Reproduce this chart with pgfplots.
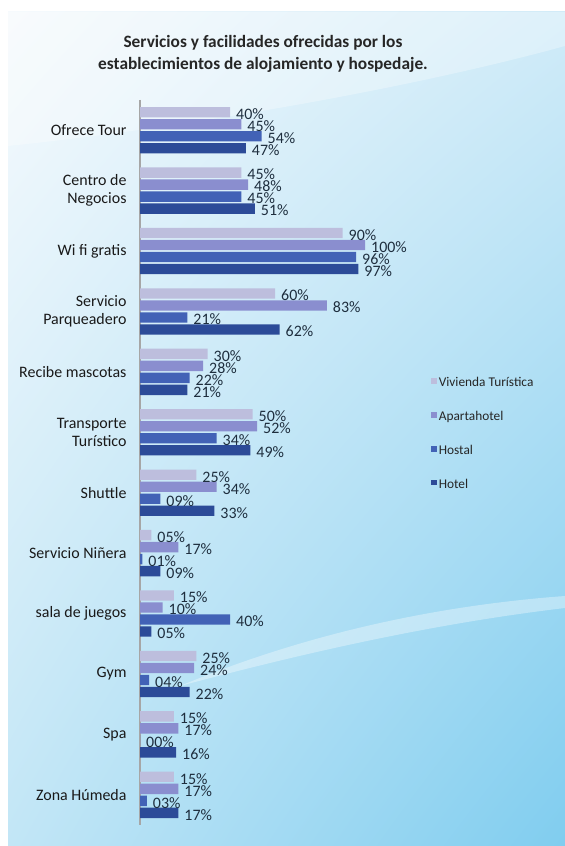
\documentclass[border=0pt]{standalone}
\usepackage{fontspec}
\setmainfont{Carlito}
\usepackage{pgfplots}
\pgfplotsset{compat=1.18}
\usetikzlibrary{shadings}
\definecolor{cViv}{HTML}{BDBEDD}
\definecolor{cApa}{HTML}{8A8ECF}
\definecolor{cHos}{HTML}{4262B6}
\definecolor{cHot}{HTML}{2C4B98}
\definecolor{lbl}{HTML}{1E2E3E}
\definecolor{bgA}{HTML}{F6FAFD}
\definecolor{bgB}{HTML}{D0EBF8}
\definecolor{bgC}{HTML}{C2E6F6}
\definecolor{bgD}{HTML}{80CDEF}
\begin{document}
\begin{tikzpicture}[x=1bp,y=1bp]
\fill[white] (0,0) rectangle (565,846);
\shade[upper left=bgA, upper right=bgB, lower left=bgC, lower right=bgD] (8,0) rectangle (565,834);
\fill[white, opacity=0.30] (8,700) .. controls (200,720) and (420,760) .. (565,800) -- (565,834) -- (8,834) -- cycle;
\fill[white, opacity=0.35] (180,160) .. controls (300,210) and (430,240) .. (565,250) -- (565,238) .. controls (430,222) and (300,192) .. (180,160) -- cycle;
\node[font=\bfseries\fontsize{17.4}{22}\selectfont, align=center, text=black!85] at (263,792) {Servicios y facilidades ofrecidas por los\\establecimientos de alojamiento y hospedaje.};
\begin{axis}[
  at={(140bp,21bp)}, anchor=south west,
  scale only axis, width=225bp, height=725bp,
  xmin=0, xmax=100, ymin=-0.5, ymax=11.5, y dir=reverse,
  xbar=1.6bp, bar width=10.4bp,
  axis x line=none, axis y line*=left,
  y axis line style={gray!70, line width=1.2pt},
  ytick={0,...,11}, major tick length=0pt,
  yticklabels={Ofrece Tour,{Centro de\\Negocios},Wi fi gratis,{Servicio\\Parqueadero},Recibe mascotas,{Transporte\\Turístico},Shuttle,Servicio Niñera,sala de juegos,Gym,Spa,Zona Húmeda},
  yticklabel style={align=right, font=\fontsize{16}{18.5}\selectfont, text=black!90, xshift=-10bp},
  clip=false,
  point meta=explicit symbolic,
  nodes near coords,
  nodes near coords style={anchor=west, font=\fontsize{16}{16}\selectfont, text=lbl, inner sep=1pt, xshift=5bp, yshift=-2bp},
  legend style={at={(1.28,0.623)}, anchor=north west, draw=none, fill=none, font=\fontsize{13.4}{15}\selectfont, row sep=19bp, text=black!85},
  legend cell align=left,
  reverse legend,
  legend image code/.code={\fill[#1] (0bp,-1.2bp) rectangle (5.6bp,4.4bp);},
]
\addplot[fill=cHot, draw=none] coordinates {
(47,0) [47\%] (51,1) [51\%] (97,2) [97\%] (62,3) [62\%] (21,4) [21\%] (49,5) [49\%]
(33,6) [33\%] (9,7) [09\%] (5,8) [05\%] (22,9) [22\%] (16,10) [16\%] (17,11) [17\%]};
\addlegendentry{Hotel}
\addplot[fill=cHos, draw=none] coordinates {
(54,0) [54\%] (45,1) [45\%] (96,2) [96\%] (21,3) [21\%] (22,4) [22\%] (34,5) [34\%]
(9,6) [09\%] (1,7) [01\%] (40,8) [40\%] (4,9) [04\%] (0,10) [00\%] (3,11) [03\%]};
\addlegendentry{Hostal}
\addplot[fill=cApa, draw=none] coordinates {
(45,0) [45\%] (48,1) [48\%] (100,2) [100\%] (83,3) [83\%] (28,4) [28\%] (52,5) [52\%]
(34,6) [34\%] (17,7) [17\%] (10,8) [10\%] (24,9) [24\%] (17,10) [17\%] (17,11) [17\%]};
\addlegendentry{Apartahotel}
\addplot[fill=cViv, draw=none] coordinates {
(40,0) [40\%] (45,1) [45\%] (90,2) [90\%] (60,3) [60\%] (30,4) [30\%] (50,5) [50\%]
(25,6) [25\%] (5,7) [05\%] (15,8) [15\%] (25,9) [25\%] (15,10) [15\%] (15,11) [15\%]};
\addlegendentry{Vivienda Turística}
\end{axis}
\pgfresetboundingbox
\useasboundingbox (0,0) rectangle (565,846);
\end{tikzpicture}
\end{document}
